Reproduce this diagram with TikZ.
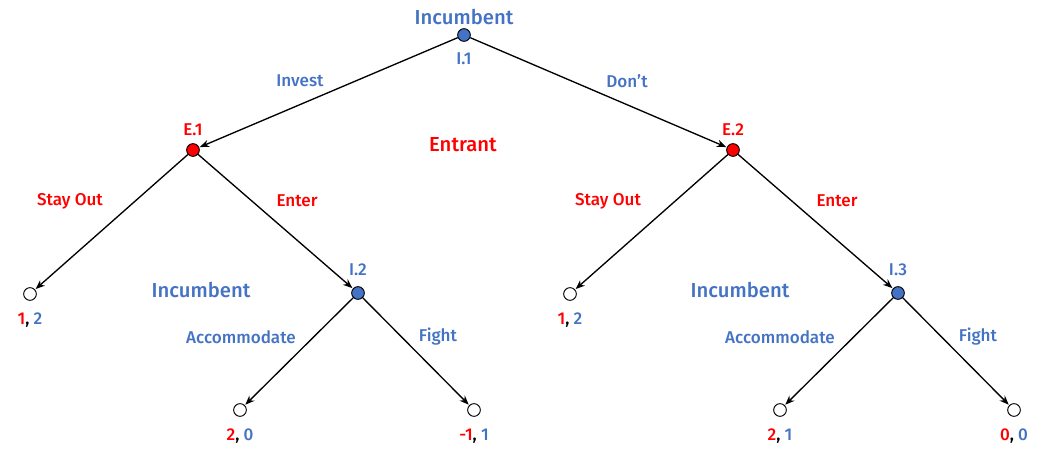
\documentclass[tikz,border=0pt]{standalone}
\usepackage{fontspec}
\setmainfont{Fira Sans}[UprightFont=* Medium]
\usetikzlibrary{arrows.meta}
\definecolor{pblue}{HTML}{4472C4}
\definecolor{pred}{HTML}{FF0000}
\tikzset{
  dec/.style={circle,draw=black,line width=0.7pt,minimum size=9.5pt,inner sep=0pt},
  bdec/.style={dec,fill=pblue},
  rdec/.style={dec,fill=pred},
  leaf/.style={dec,fill=white},
  edge/.style={line width=1pt,-{Stealth[length=7pt,width=5.5pt]},shorten >=0.5pt},
  lab/.style={font=\fontsize{12.8}{15}\selectfont},
  big/.style={font=\fontsize{15.2}{18}\selectfont},
  bl/.style={lab,text=pblue},
  rl/.style={lab,text=pred},
}
\begin{document}
\begin{tikzpicture}[x=0.75pt,y=-0.75pt]
\useasboundingbox (0,0) rectangle (1047,449);
% decision nodes
\node[bdec] (i1) at (464,35) {};
\node[rdec] (e1) at (193,150) {};
\node[rdec] (e2) at (733,150) {};
\node[leaf] (l1) at (30,294) {};
\node[bdec] (i2) at (358,293) {};
\node[leaf] (l2) at (570,294) {};
\node[bdec] (i3) at (898,293) {};
\node[leaf] (l3) at (240,410) {};
\node[leaf] (l4) at (474,410) {};
\node[leaf] (l5) at (780,410) {};
\node[leaf] (l6) at (1014,410) {};
% edges
\draw[edge] (i1) -- (e1);
\draw[edge] (i1) -- (e2);
\draw[edge] (e1) -- (l1);
\draw[edge] (e1) -- (i2);
\draw[edge] (e2) -- (l2);
\draw[edge] (e2) -- (i3);
\draw[edge] (i2) -- (l3);
\draw[edge] (i2) -- (l4);
\draw[edge] (i3) -- (l5);
\draw[edge] (i3) -- (l6);
% player labels
\node[big,text=pblue] (pI) at (464,17) {Incumbent};
\node[big,text=pred] (pE) at (463,145) {Entrant};
\node[big,text=pblue] (pI2) at (201,290) {Incumbent};
\node[big,text=pblue] (pI3) at (740,290) {Incumbent};
% node names
\node[bl] (n1) at (464,59) {I.1};
\node[rl] (n2) at (193,130) {E.1};
\node[rl] (n3) at (733,130) {E.2};
\node[bl] (n4) at (358,270) {I.2};
\node[bl] (n5) at (898,270) {I.3};
% action labels
\node[bl] (a1) at (300,81) {Invest};
\node[bl] (a2) at (627,81) {Don’t};
\node[rl] (a3) at (70,201) {Stay Out};
\node[rl] (a4) at (297,201) {Enter};
\node[rl] (a5) at (608,201) {Stay Out};
\node[rl] (a6) at (837,201) {Enter};
\node[bl] (a7) at (241,337) {Accommodate};
\node[bl] (a8) at (438,337) {Fight};
\node[bl] (a9) at (780,337) {Accommodate};
\node[bl] (a10) at (978,337) {Fight};
% payoffs
\node[lab] (p1) at (30,320) {\textcolor{pred}{1}, \textcolor{pblue}{2}};
\node[lab] (p2) at (570,320) {\textcolor{pred}{1}, \textcolor{pblue}{2}};
\node[lab] (p3) at (240,436) {\textcolor{pred}{2}, \textcolor{pblue}{0}};
\node[lab] (p4) at (474,436) {\textcolor{pred}{-1}, \textcolor{pblue}{1}};
\node[lab] (p5) at (780,436) {\textcolor{pred}{2}, \textcolor{pblue}{1}};
\node[lab] (p6) at (1014,436) {\textcolor{pred}{0}, \textcolor{pblue}{0}};
\end{tikzpicture}
\end{document}
